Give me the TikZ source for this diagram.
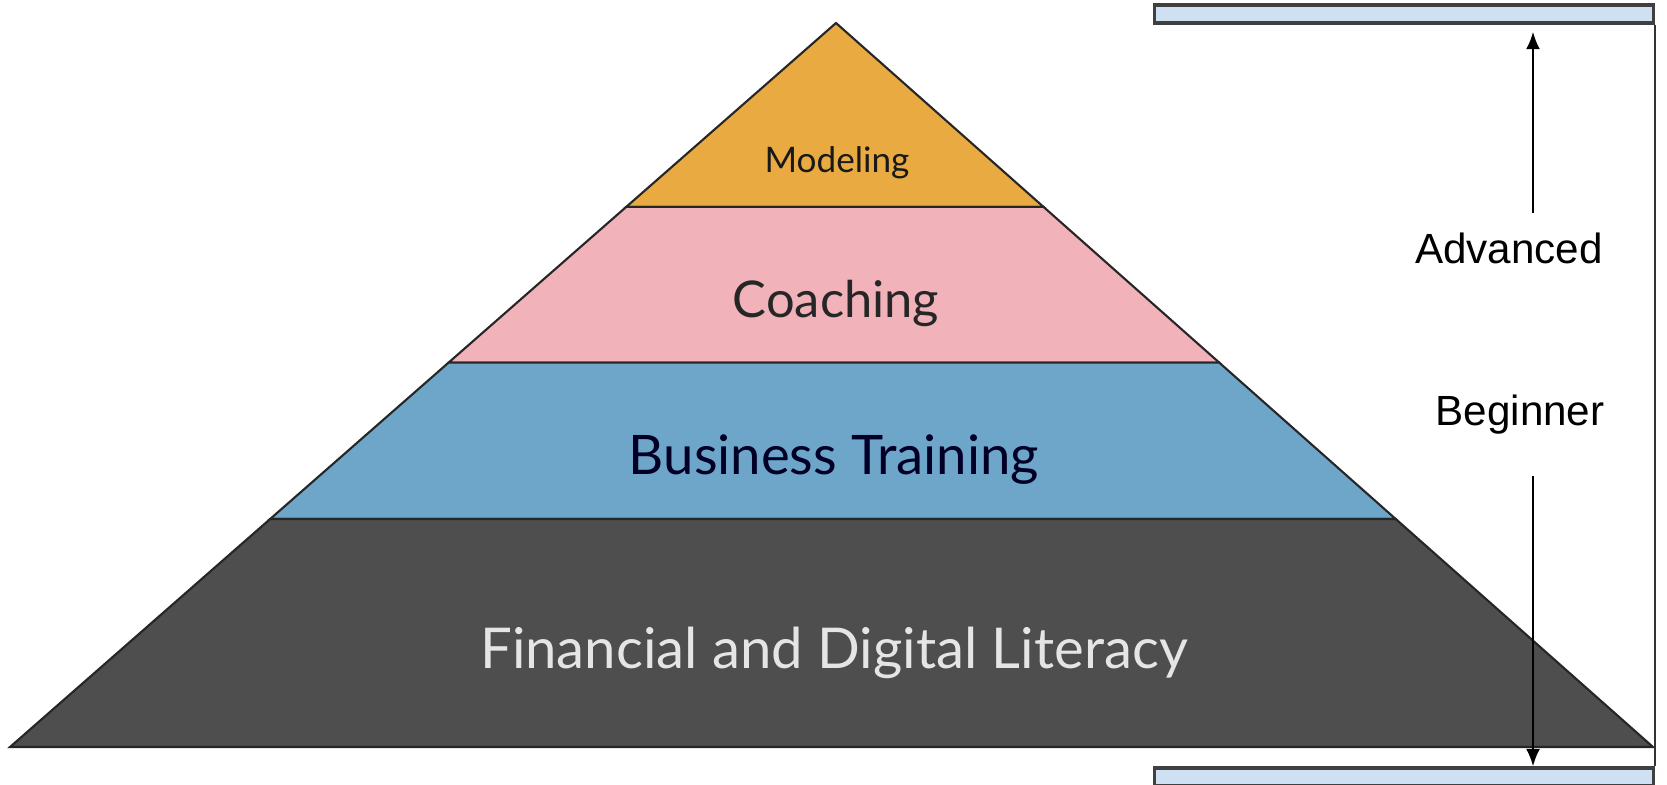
\documentclass[tikz,border=0pt]{standalone}
\usepackage{fontspec}
\setmainfont{Liberation Sans}
\newfontfamily\layerfont{Lato}
\usetikzlibrary{arrows.meta, positioning, calc}
\usepackage{xcolor}
\definecolor{modelcol}{RGB}{233,170,66}
\definecolor{coachcol}{RGB}{241,178,186}
\definecolor{businesscol}{RGB}{110,166,201}
\definecolor{literacycol}{RGB}{78,78,78}
\definecolor{barcol}{RGB}{208,224,243}

\begin{document}
\begin{tikzpicture}[x=0.01cm, y=-0.01cm,
    layer/.style = {draw=black!85, line width=0.6pt, line join=miter},
    ltext/.style = {anchor=base, inner sep=0pt},
    bar/.style = {rectangle, draw=black!75, line width=0.9pt, fill=barcol, inner sep=0pt, minimum width=4.98cm, minimum height=0.18cm},
    level/.style = {anchor=base, inner sep=0pt, font=\fontsize{12}{14}\selectfont},
    arrow/.style = {-{Latex[length=5pt, width=4pt]}, line width=0.7pt}
]
\useasboundingbox (0,0) rectangle (1667,784);

% pyramid corners
\coordinate (T) at (836,23);
\coordinate (L) at (10,747);
\coordinate (R) at (1653,747);

% Layers, top to bottom
\filldraw[layer, fill=modelcol] (T) -- ($(T)!0.254!(R)$) -- ($(T)!0.254!(L)$) -- cycle;
\filldraw[layer, fill=coachcol] ($(T)!0.254!(L)$) -- ($(T)!0.254!(R)$) -- ($(T)!0.469!(R)$) -- ($(T)!0.469!(L)$) -- cycle;
\filldraw[layer, fill=businesscol] ($(T)!0.469!(L)$) -- ($(T)!0.469!(R)$) -- ($(T)!0.685!(R)$) -- ($(T)!0.685!(L)$) -- cycle;
\filldraw[layer, fill=literacycol] ($(T)!0.685!(L)$) -- ($(T)!0.685!(R)$) -- (R) -- (L) -- cycle;

\node[ltext, text=black!90, font=\layerfont\fontsize{10}{12}\selectfont] (model) at (837,172) {Modeling};
\node[ltext, text=black!85, font=\layerfont\fontsize{14.4}{17}\selectfont] (coach) at (836,317) {Coaching};
\node[ltext, text=black!85!blue, font=\layerfont\fontsize{15.5}{18}\selectfont] (business) at (834,474) {Business Training};
\node[ltext, text=white!90!black, font=\layerfont\fontsize{16}{19}\selectfont] (literacy) at (834,668) {Financial and Digital Literacy};

% level scale on the right
\node[bar] (top) at (1404,14) {};
\node[bar] (bot) at (1404,777) {};
\draw[line width=0.7pt, black!80] (top.south east) -- (bot.north east);

\node[level] (adv) at (1509,263) {Advanced};
\node[level] (beg) at (1520,425) {Beginner};

\coordinate (upstart) at (1533,213);
\coordinate (downstart) at (1533,476);
\draw[arrow, shorten >=2pt] (upstart) -- (upstart |- top.south);
\draw[arrow] (downstart) -- (downstart |- bot.north);

\end{tikzpicture}
\end{document}
